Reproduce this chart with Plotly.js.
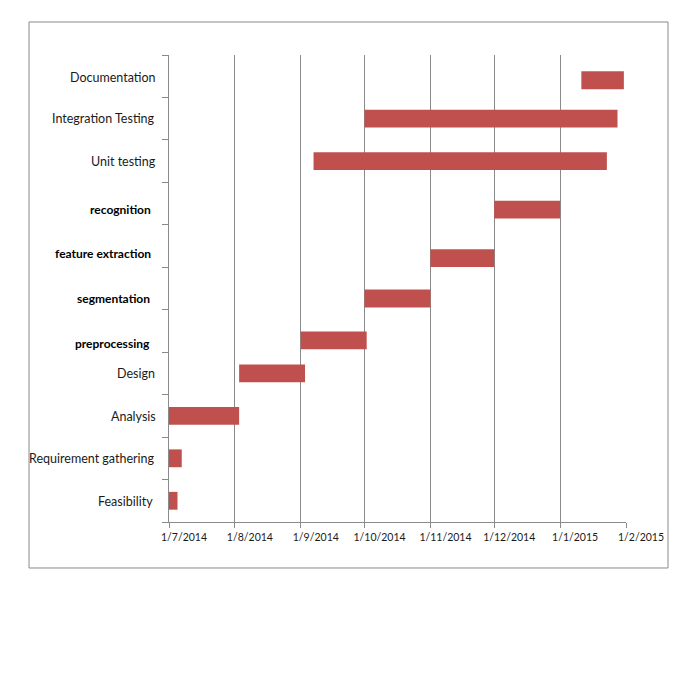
<!DOCTYPE html>
<html>
<head>
<meta charset="utf-8">
<script src="https://cdn.plot.ly/plotly-3.0.1.min.js"></script>
<style>html,body{margin:0;padding:0;background:#fff;}#chart{width:700px;height:700px;}</style>
</head>
<body>
<div id="chart"></div>
<script>
const tasks = ["Feasibility", "Requirement gathering", "Analysis", "Design", "preprocessing", "segmentation", "feature extraction", "recognition", "Unit testing", "Integration Testing", "Documentation"];
const startDates = ["2014-07-01", "2014-07-01", "2014-07-01", "2014-08-03", "2014-09-01", "2014-10-01", "2014-11-01", "2014-12-01", "2014-09-07", "2014-10-01", "2015-01-11"];
const endDates = ["2014-07-05", "2014-07-07", "2014-08-03", "2014-09-03", "2014-10-02", "2014-11-01", "2014-12-01", "2015-01-01", "2015-01-23", "2015-01-28", "2015-01-31"];
const xRange = ["2014-07-01", "2015-02-01"];

// styling only (not data): bold labels and small pixel nudges seen in the original
const boldLabels = ["preprocessing", "segmentation", "feature extraction", "recognition"];
const labelDy = [-1, 0, -1, 0, -13, -10, -7, -6, 0, 0, -1];
const labelDx = [-14, -12, -11, -12, -17, -17, -16, -16, -11, -12, -11];
const barDyPx = [0, 0, 0, 0, 9.5, 10, 12, 6, 0, 0, 4];
const barWidth = 0.42;
const catPx = 467 / 11;

const durations = startDates.map((s, i) => new Date(endDates[i]) - new Date(s));
const barOffsets = barDyPx.map(d => -barWidth / 2 - d / catPx);

const trace = {
  type: "bar",
  orientation: "h",
  y: tasks,
  base: startDates,
  x: durations,
  width: barWidth,
  offset: barOffsets,
  marker: {color: "#c0504d"},
  hoverinfo: "none"
};

const annotations = tasks.map((t, i) => {
  const bold = boldLabels.includes(t);
  return {
    xref: "paper", yref: "y",
    x: 0, y: t,
    xanchor: "right", yanchor: "middle",
    xshift: labelDx[i], yshift: labelDy[i],
    text: bold ? "<b>" + t + "</b>" : t,
    showarrow: false,
    font: {family: "Lato, sans-serif", size: bold ? 12 : 12.5, color: bold ? "#000" : "#1a1a1a"}
  };
});

const layout = {
  width: 700, height: 700,
  margin: {l: 169, r: 74, t: 55, b: 178},
  paper_bgcolor: "#fff", plot_bgcolor: "#fff",
  showlegend: false,
  font: {family: "Lato, sans-serif", color: "#222"},
  xaxis: {
    type: "date",
    range: xRange,
    tick0: "2014-07-01",
    dtick: "M1",
    tickformat: "%-d/%-m/%Y",
    showgrid: true, gridcolor: "#8a8a8a", gridwidth: 1,
    showline: true, linecolor: "#8a8a8a", linewidth: 1,
    ticks: "outside", ticklen: 5, tickcolor: "#8a8a8a",
    tickfont: {family: "Lato, sans-serif", size: 10.5, color: "#1a1a1a"},
    ticklabelshift: 15,
    ticklabelstandoff: 0,
    zeroline: false
  },
  yaxis: {
    type: "category",
    categoryorder: "array", categoryarray: tasks,
    range: [-0.5, 10.5],
    showgrid: false,
    showline: true, linecolor: "#8a8a8a", linewidth: 1,
    ticks: "outside", tickson: "boundaries", ticklen: 6, tickcolor: "#8a8a8a",
    showticklabels: false,
    zeroline: false
  },
  annotations: annotations,
  shapes: [{
    type: "rect", xref: "paper", yref: "paper",
    x0: -0.3063, x1: 1.0919, y0: -0.0985, y1: 1.0707,
    line: {color: "#8a8a8a", width: 1}, fillcolor: "rgba(0,0,0,0)"
  }]
};

Plotly.newPlot("chart", [trace], layout, {displayModeBar: false, staticPlot: true});
</script>
</body>
</html>
